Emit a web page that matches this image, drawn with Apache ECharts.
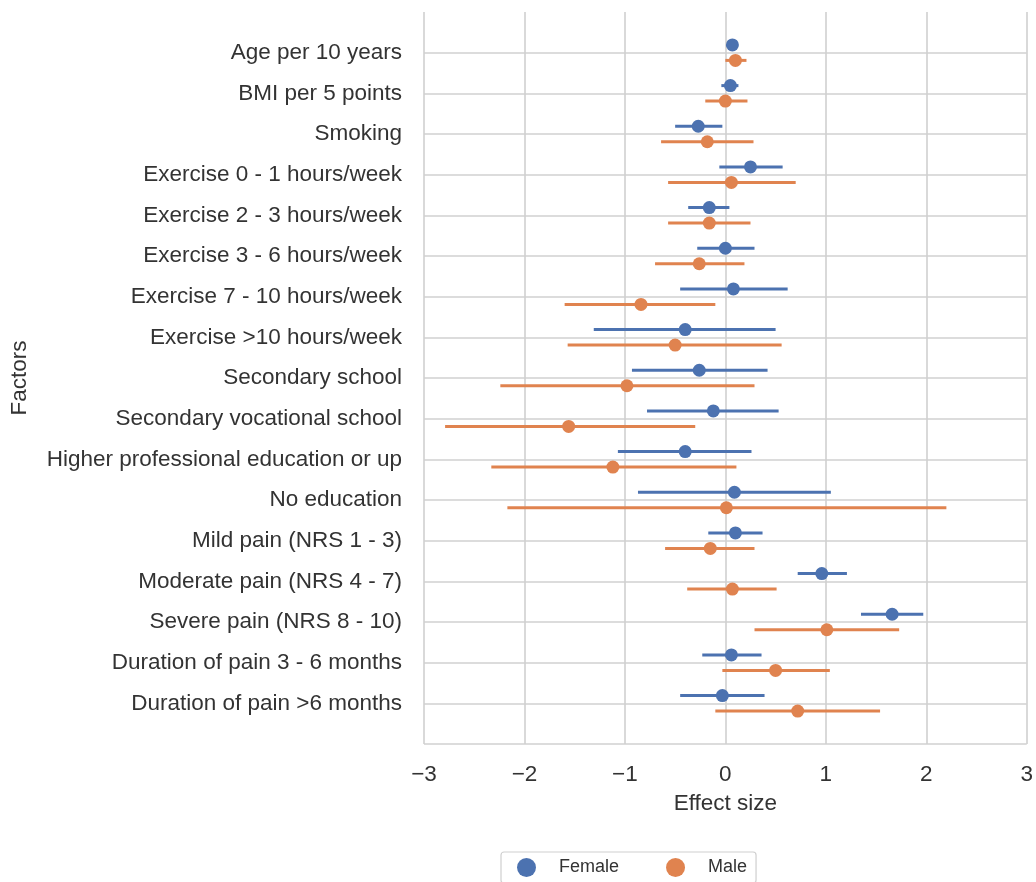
<!DOCTYPE html>
<html>
<head>
<meta charset="utf-8">
<script src="https://cdn.jsdelivr.net/npm/echarts@6/dist/echarts.min.js"></script>
<style>html,body{margin:0;padding:0;background:#fff}#c{width:1036px;height:882px}</style>
</head>
<body>
<div id="c"></div>
<script>
const categories = [
  "Age per 10 years", "BMI per 5 points", "Smoking",
  "Exercise 0 - 1 hours/week", "Exercise 2 - 3 hours/week", "Exercise 3 - 6 hours/week",
  "Exercise 7 - 10 hours/week", "Exercise >10 hours/week", "Secondary school",
  "Secondary vocational school", "Higher professional education or up", "No education",
  "Mild pain (NRS 1 - 3)", "Moderate pain (NRS 4 - 7)", "Severe pain (NRS 8 - 10)",
  "Duration of pain 3 - 6 months", "Duration of pain >6 months"
];
const femaleMean = [0.07, 0.05, -0.27, 0.25, -0.16, 0.00, 0.08, -0.40, -0.26, -0.12, -0.40, 0.09, 0.10, 0.96, 1.66, 0.06, -0.03];
const femaleLow  = [0.04, -0.04, -0.50, -0.06, -0.37, -0.28, -0.45, -1.31, -0.93, -0.78, -1.07, -0.87, -0.17, 0.72, 1.35, -0.23, -0.45];
const femaleHigh = [0.10, 0.13, -0.03, 0.57, 0.04, 0.29, 0.62, 0.50, 0.42, 0.53, 0.26, 1.05, 0.37, 1.21, 1.97, 0.36, 0.39];
const maleMean = [0.10, 0.00, -0.18, 0.06, -0.16, -0.26, -0.84, -0.50, -0.98, -1.56, -1.12, 0.01, -0.15, 0.07, 1.01, 0.50, 0.72];
const maleLow  = [0.00, -0.20, -0.64, -0.57, -0.57, -0.70, -1.60, -1.57, -2.24, -2.79, -2.33, -2.17, -0.60, -0.38, 0.29, -0.03, -0.10];
const maleHigh = [0.21, 0.22, 0.28, 0.70, 0.25, 0.19, -0.10, 0.56, 0.29, -0.30, 0.11, 2.20, 0.29, 0.51, 1.73, 1.04, 1.54];
const xTicks = [-3, -2, -1, 0, 1, 2, 3];

const blue = '#4c72b0', orange = '#e0834f';
const dodge = 0.19;
const font = "'Liberation Sans', Arial, sans-serif";
const txt = '#333333';

function barData(lo, hi, off) { return lo.map((v, i) => [v, hi[i], i + off]); }
function ptData(m, off) { return m.map((v, i) => [v, i + off]); }
function errSeries(name, data, color) {
  return {
    type: 'custom', name: name, z: 1, silent: true,
    data: data,
    encode: { x: [0, 1], y: 2 },
    renderItem: function (params, api) {
      const a = api.coord([api.value(0), api.value(2)]);
      const b = api.coord([api.value(1), api.value(2)]);
      return { type: 'line', shape: { x1: a[0], y1: a[1], x2: b[0], y2: b[1] },
               style: { stroke: color, lineWidth: 3 } };
    }
  };
}

const chart = echarts.init(document.getElementById('c'), null, { renderer: 'canvas' });
chart.setOption({
  animation: false,
  backgroundColor: '#fff',
  grid: { left: 420, right: 6, top: 12, bottom: 138, containLabel: false },
  xAxis: {
    type: 'value', min: xTicks[0], max: xTicks[xTicks.length - 1], interval: 1,
    name: 'Effect size', nameLocation: 'middle', nameGap: 48,
    nameTextStyle: { fontFamily: font, fontSize: 22.5, color: txt },
    axisLine: { show: false }, axisTick: { show: false },
    axisLabel: { fontFamily: font, fontSize: 22.5, color: txt, margin: 19,
      formatter: v => String(v).replace('-', '\u2212') },
    splitLine: { show: true, lineStyle: { color: '#d0d0d0', width: 1.6 } }
  },
  yAxis: {
    type: 'value', inverse: true, min: -1, max: categories.length, interval: 1,
    name: 'Factors', nameLocation: 'middle', nameGap: 393, nameRotate: 90,
    nameTextStyle: { fontFamily: font, fontSize: 22.5, color: txt },
    axisLine: { show: false }, axisTick: { show: false },
    axisLabel: { fontFamily: font, fontSize: 22.5, color: txt, margin: 22,
      formatter: v => categories[v] || '' },
    splitLine: { show: true, showMinLine: false, lineStyle: { color: '#d0d0d0', width: 1.6 } }
  },
  legend: {
    left: 501, top: 852,
    data: [{ name: 'Female', icon: 'circle' }, { name: 'Male', icon: 'circle' }],
    itemWidth: 19, itemHeight: 19, itemGap: 47,
    padding: [6, 9, 6, 16],
    borderColor: '#cfcfcf', borderWidth: 1.2, borderRadius: 3,
    textStyle: { fontFamily: font, fontSize: 18, color: txt, padding: [0, 0, 0, 18] }
  },
  series: [
    errSeries('Female CI', barData(femaleLow, femaleHigh, -dodge), blue),
    errSeries('Male CI', barData(maleLow, maleHigh, dodge), orange),
    { type: 'scatter', name: 'Female', z: 3, symbol: 'circle', symbolSize: 13,
      itemStyle: { color: blue, opacity: 1 }, data: ptData(femaleMean, -dodge) },
    { type: 'scatter', name: 'Male', z: 3, symbol: 'circle', symbolSize: 13,
      itemStyle: { color: orange, opacity: 1 }, data: ptData(maleMean, dodge) }
  ]
});
</script>
</body>
</html>
